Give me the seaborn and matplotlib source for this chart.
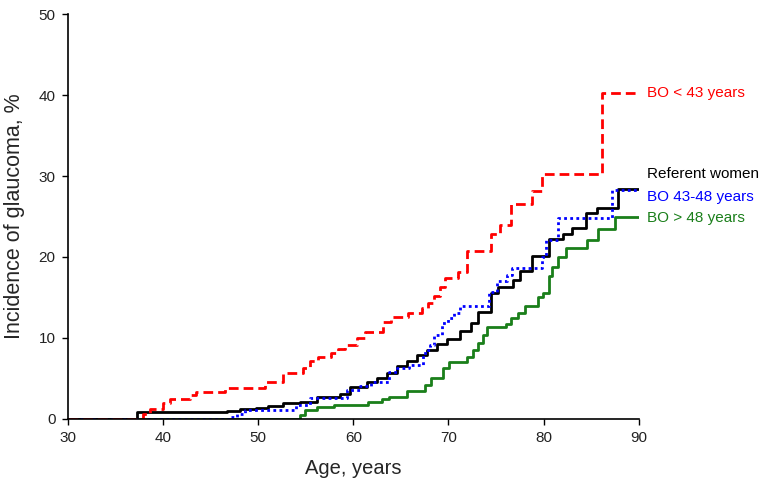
"""
Cumulative incidence of glaucoma by age - step curves per group.
"""
import matplotlib
matplotlib.use("Agg")
import matplotlib.pyplot as plt
import seaborn as sns

# Step data (age, cumulative incidence %)
ref_age = [30, 37.3, 46.7, 48.1, 49.8, 51.0, 52.6, 54.4, 56.2, 58.6, 59.6, 61.4,
           62.5, 63.5, 64.6, 65.6, 66.7, 67.7, 68.8, 69.8, 71.2, 72.4, 73.1,
           74.5, 75.2, 76.8, 77.5, 78.8, 80.6, 82.0, 83.0, 84.5, 85.6, 87.8, 90]
ref_inc = [0, 0.8, 1.0, 1.2, 1.4, 1.6, 2.0, 2.1, 2.75, 3.1, 4.0, 4.6,
           5.0, 5.7, 6.5, 7.2, 7.9, 8.5, 9.2, 9.9, 10.8, 11.8, 13.2,
           15.5, 16.3, 17.2, 18.3, 20.1, 22.2, 22.8, 23.6, 25.4, 26.1, 28.4, 28.4]

young_age = [30, 37.9, 38.6, 40.0, 40.7, 42.8, 43.5, 46.5, 50.7, 52.6, 54.7, 55.4,
             56.3, 57.7, 58.4, 59.1, 60.4, 61.2, 63.1, 64.0, 65.7, 67.2, 67.8,
             68.5, 69.1, 69.6, 71.0, 72.0, 74.5, 75.4, 76.6, 78.8, 79.8, 86.1, 90]
young_inc = [0, 0.6, 1.2, 2.0, 2.5, 3.0, 3.3, 3.8, 4.6, 5.7, 6.3, 7.1,
             7.7, 8.2, 8.6, 9.1, 10.0, 10.7, 12.0, 12.6, 13.1, 13.7, 14.3,
             15.2, 16.3, 17.4, 18.1, 20.7, 22.8, 24.0, 26.5, 28.2, 30.2, 40.3, 40.3]

mid_age = [30, 47.0, 47.8, 48.6, 54.0, 55.4, 59.3, 60.7, 61.9, 63.8, 64.6, 65.9,
           67.3, 67.8, 68.1, 68.5, 69.3, 70.0, 70.6, 71.2, 74.3, 75.1, 76.2,
           76.7, 79.8, 80.3, 81.5, 87.2, 90]
mid_inc = [0, 0.3, 0.6, 1.1, 1.7, 2.6, 3.6, 4.1, 4.6, 5.8, 6.3, 6.7,
           8.1, 8.5, 9.1, 10.4, 11.8, 12.5, 13.1, 14.0, 15.7, 17.0, 17.8,
           18.6, 20.0, 22.1, 24.8, 28.3, 28.3]

old_age = [30, 54.4, 54.9, 56.2, 58.0, 61.5, 63.0, 63.8, 65.6, 67.5, 68.2, 69.4,
           70.1, 72.0, 72.6, 73.1, 73.6, 74.1, 76.1, 76.6, 77.3, 78.0, 79.4,
           79.9, 80.6, 80.9, 81.5, 82.4, 84.6, 85.7, 87.5, 90]
old_inc = [0, 0.5, 1.1, 1.5, 1.7, 2.1, 2.5, 2.75, 3.4, 4.2, 5.0, 6.3,
           7.0, 7.7, 8.5, 9.4, 10.4, 11.3, 11.7, 12.5, 13.1, 14.0, 15.1,
           15.5, 17.6, 18.8, 20.0, 21.1, 22.1, 23.5, 24.9, 24.9]

labels = ["BO < 43 years", "Referent women", "BO 43-48 years", "BO > 48 years"]
label_y = [40.2, 30.2, 27.4, 24.8]
colors = ["#ff0000", "#000000", "#0000ff", "#1a7f1a"]

sns.set_style("ticks")
plt.rcParams["font.family"] = ["Liberation Sans", "DejaVu Sans"]

fig, ax = plt.subplots(figsize=(7.64, 4.86), dpi=100)
fig.subplots_adjust(left=0.089, right=0.836, bottom=0.138, top=0.971)

lw = 2.0
sns.lineplot(x=old_age, y=old_inc, drawstyle="steps-post", color=colors[3],
             lw=lw, estimator=None, sort=False, ax=ax)
sns.lineplot(x=ref_age, y=ref_inc, drawstyle="steps-post", color=colors[1],
             lw=lw, estimator=None, sort=False, ax=ax)
sns.lineplot(x=mid_age, y=mid_inc, drawstyle="steps-post", color=colors[2],
             lw=lw, estimator=None, sort=False, ax=ax)
ax.lines[-1].set_linestyle((0, (1, 1.2)))
sns.lineplot(x=young_age, y=young_inc, drawstyle="steps-post", color=colors[0],
             lw=lw, estimator=None, sort=False, ax=ax)
ax.lines[-1].set_linestyle((0, (3.5, 1.8)))

for lab, y, c in zip(labels, label_y, colors):
    ax.text(90.9, y, lab, color=c, fontsize=11, va="center", ha="left",
            clip_on=False)

ax.set_xlim(30, 90)
ax.set_ylim(0, 50)
ax.set_xticks(range(30, 91, 10))
ax.set_yticks(range(0, 51, 10))
ax.tick_params(direction="out", length=4, width=1, pad=5, labelsize=11,
               color="black", labelcolor="#222222")
ax.set_xlabel("Age, years", fontsize=14.5, labelpad=10)
ax.set_ylabel("Incidence of glaucoma, %", fontsize=15.5, labelpad=10)
for s in ["left", "bottom"]:
    ax.spines[s].set_color("black")
    ax.spines[s].set_linewidth(1.2)
sns.despine(ax=ax)

plt.savefig("out.png", dpi=100)
plt.close()
